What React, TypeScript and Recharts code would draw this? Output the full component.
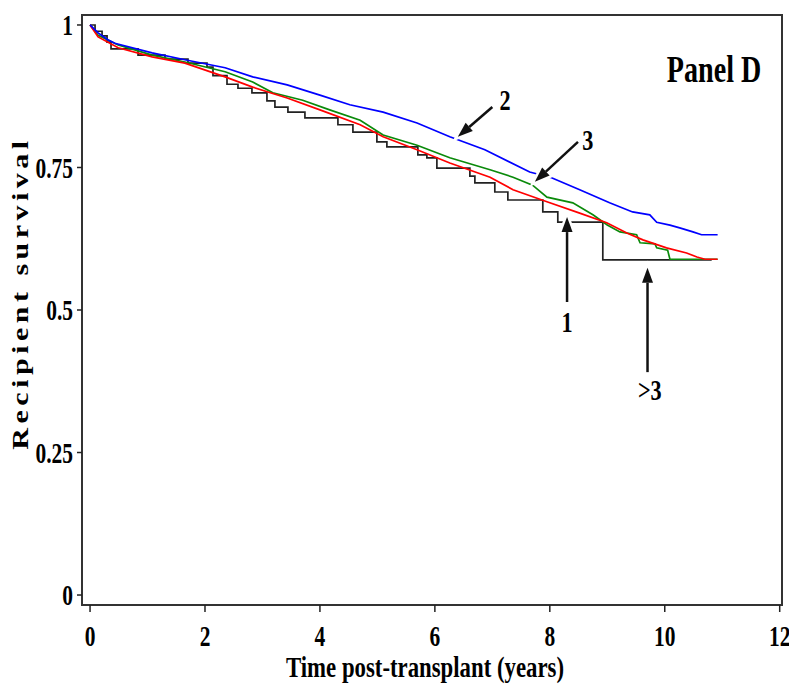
import { LineChart, Line, XAxis, YAxis, ReferenceArea, ReferenceLine, ReferenceDot } from 'recharts';

// Kaplan-Meier survival by group
const tBlue = [0, 0.14, 0.31, 0.43, 1.08, 1.65, 2.35, 2.83, 3.43, 4.0, 4.52, 5.1, 5.69, 6.26, 6.87, 7.65, 8.03, 8.52, 9.04, 9.44, 9.74, 9.86, 10.09, 10.26, 10.49, 10.64, 10.92];
const sBlue = [1.0, 0.986, 0.974, 0.968, 0.951, 0.939, 0.925, 0.909, 0.895, 0.877, 0.86, 0.847, 0.828, 0.804, 0.781, 0.742, 0.732, 0.711, 0.688, 0.672, 0.667, 0.654, 0.649, 0.644, 0.637, 0.632, 0.632];

const tRed = [0, 0.14, 0.49, 1.08, 1.65, 2.35, 2.83, 3.43, 4.0, 4.7, 5.1, 5.69, 6.26, 6.96, 7.36, 7.95, 8.52, 8.99, 9.34, 9.62, 10.03, 10.38, 10.56, 10.7, 10.92];
const sRed = [1.0, 0.979, 0.96, 0.944, 0.933, 0.909, 0.891, 0.872, 0.851, 0.825, 0.804, 0.781, 0.758, 0.733, 0.711, 0.69, 0.67, 0.653, 0.635, 0.623, 0.609, 0.6, 0.593, 0.589, 0.589];

const tGreen = [0, 0.14, 0.49, 1.08, 1.65, 2.35, 2.83, 3.18, 3.7, 4.17, 4.7, 5.1, 5.69, 6.26, 6.96, 7.36, 7.7, 7.95, 8.4, 8.75, 9.0, 9.22, 9.51, 9.57, 9.83, 9.86, 10.05, 10.09, 10.92];
const sGreen = [1.0, 0.982, 0.965, 0.947, 0.935, 0.918, 0.9, 0.881, 0.868, 0.851, 0.833, 0.807, 0.789, 0.767, 0.746, 0.733, 0.719, 0.698, 0.688, 0.667, 0.649, 0.637, 0.632, 0.618, 0.616, 0.609, 0.605, 0.589, 0.589];

// group >3 has few patients -> visible steps
const tBlack = [0, 0.087, 0.209, 0.296, 0.365, 0.835, 1.304, 1.704, 2.035, 2.139, 2.383, 2.574, 2.817, 3.078, 3.217, 3.443, 3.739, 4.313, 4.574, 4.991, 5.165, 5.704, 5.861, 6.035, 6.609, 6.696, 7.043, 7.27, 7.878, 8.139, 8.922, 10.817];
const sBlack = [1.0, 0.989, 0.981, 0.97, 0.958, 0.947, 0.94, 0.933, 0.926, 0.911, 0.896, 0.889, 0.881, 0.867, 0.856, 0.847, 0.837, 0.825, 0.812, 0.795, 0.786, 0.772, 0.767, 0.749, 0.735, 0.723, 0.707, 0.693, 0.672, 0.654, 0.588, 0.588];

const xTicks = [0, 2, 4, 6, 8, 10, 12];
const yTicks = [0, 0.25, 0.5, 0.75, 1];

const X_MIN = -0.14;
const X_MAX = 12.04;
const Y_MIN = -0.0175;
const Y_MAX = 1.0175;

const FONT = '"Liberation Serif", "Times New Roman", serif';
const SQUEEZE = 0.74; // the original figure is squashed horizontally

const rows = (t: number[], s: number[]) => t.map((v, i) => ({ t: v, s: s[i] }));

function Tick(props: any) {
  const { x, y, payload, textAnchor, vertical } = props;
  return (
    <text
      transform={`translate(${x},${y}) scale(${SQUEEZE},1)`}
      textAnchor={textAnchor}
      dy={vertical ? '0.355em' : '0.71em'}
      fontFamily={FONT}
      fontWeight="bold"
      fontSize={29}
      fill="#000"
    >
      {payload.value}
    </text>
  );
}

function Arrow(props: any) {
  const { x1, y1, x2, y2 } = props;
  const ang = Math.atan2(y2 - y1, x2 - x1);
  const len = 15;
  const half = 5.5;
  const bx = x2 - len * Math.cos(ang);
  const by = y2 - len * Math.sin(ang);
  const px = -Math.sin(ang) * half;
  const py = Math.cos(ang) * half;
  const head = `${x2},${y2} ${bx + px},${by + py} ${bx - px},${by - py}`;
  return (
    <g>
      <line x1={x1} y1={y1} x2={bx} y2={by} stroke="#fff" strokeWidth={7} />
      <polygon points={head} fill="#fff" stroke="#fff" strokeWidth={5} />
      <line x1={x1} y1={y1} x2={bx} y2={by} stroke="#111" strokeWidth={2.5} />
      <polygon points={head} fill="#111" />
    </g>
  );
}

function Txt(size: number, anchor: string, value: string) {
  return (p: any) => (
    <text
      transform={`translate(${p.cx},${p.cy}) scale(${SQUEEZE},1)`}
      textAnchor={anchor}
      fontFamily={FONT}
      fontWeight="bold"
      fontSize={size}
      fill="#000"
    >
      {value}
    </text>
  );
}

export default function App() {
  return (
    <div style={{ position: 'absolute', left: 0, top: 0, width: 789, height: 694, background: '#fff' }}>
      <LineChart width={789} height={694} margin={{ top: 15, right: 7, left: 0, bottom: 0 }}>
        <XAxis
          dataKey="t"
          type="number"
          domain={[X_MIN, X_MAX]}
          ticks={xTicks}
          allowDataOverflow
          height={89}
          axisLine={false}
          tickSize={7}
          tickMargin={13}
          tickLine={{ stroke: '#222', strokeWidth: 1.5 }}
          tick={<Tick />}
          label={{
            content: (p: any) => (
              <text
                transform={`translate(${p.viewBox.x + 343},${p.viewBox.y + 72}) scale(0.76,1)`}
                textAnchor="middle"
                fontFamily={FONT}
                fontWeight="bold"
                fontSize={30}
                fill="#000"
              >
                Time post-transplant (years)
              </text>
            ),
          }}
        />
        <YAxis
          dataKey="s"
          type="number"
          domain={[Y_MIN, Y_MAX]}
          ticks={yTicks}
          allowDataOverflow
          width={82}
          axisLine={false}
          tickSize={5}
          tickMargin={4}
          tickLine={{ stroke: '#222', strokeWidth: 1.5 }}
          tick={<Tick vertical />}
          label={{
            content: (p: any) => (
              <text
                transform={`translate(${p.viewBox.x + 28},${p.viewBox.y + 278}) scale(${SQUEEZE},1) rotate(-90)`}
                textAnchor="middle"
                fontFamily={FONT}
                fontWeight="bold"
                fontSize={30}
                letterSpacing={4.5}
                fill="#000"
              >
                Recipient survival
              </text>
            ),
          }}
        />
        <ReferenceArea x1={X_MIN} x2={X_MAX} y1={Y_MIN} y2={Y_MAX} fill="none" stroke="#333" strokeWidth={2} />

        <Line data={rows(tBlack, sBlack)} dataKey="s" type="stepAfter" stroke="#222" strokeWidth={1.7} dot={false} isAnimationActive={false} />
        <Line data={rows(tGreen, sGreen)} dataKey="s" type="linear" stroke="#0a8a0a" strokeWidth={1.7} dot={false} isAnimationActive={false} />
        <Line data={rows(tRed, sRed)} dataKey="s" type="linear" stroke="#ff0000" strokeWidth={1.7} dot={false} isAnimationActive={false} />
        <Line data={rows(tBlue, sBlue)} dataKey="s" type="linear" stroke="#0000ff" strokeWidth={1.7} dot={false} isAnimationActive={false} />

        <ReferenceLine segment={[{ x: 7.0, y: 0.856 }, { x: 6.4, y: 0.804 }]} shape={<Arrow />} />
        <ReferenceLine segment={[{ x: 8.49, y: 0.795 }, { x: 7.74, y: 0.725 }]} shape={<Arrow />} />
        <ReferenceLine segment={[{ x: 8.3, y: 0.514 }, { x: 8.3, y: 0.663 }]} shape={<Arrow />} />
        <ReferenceLine segment={[{ x: 9.7, y: 0.391 }, { x: 9.7, y: 0.574 }]} shape={<Arrow />} />

        <ReferenceDot x={7.22} y={0.851} r={0} shape={Txt(30, 'middle', '2')} />
        <ReferenceDot x={8.66} y={0.781} r={0} shape={Txt(30, 'middle', '3')} />
        <ReferenceDot x={8.3} y={0.461} r={0} shape={Txt(30, 'middle', '1')} />
        <ReferenceDot x={9.74} y={0.342} r={0} shape={Txt(30, 'middle', '>3')} />
        <ReferenceDot x={11.68} y={0.9} r={0} shape={Txt(38, 'end', 'Panel D')} />
      </LineChart>
    </div>
  );
}
